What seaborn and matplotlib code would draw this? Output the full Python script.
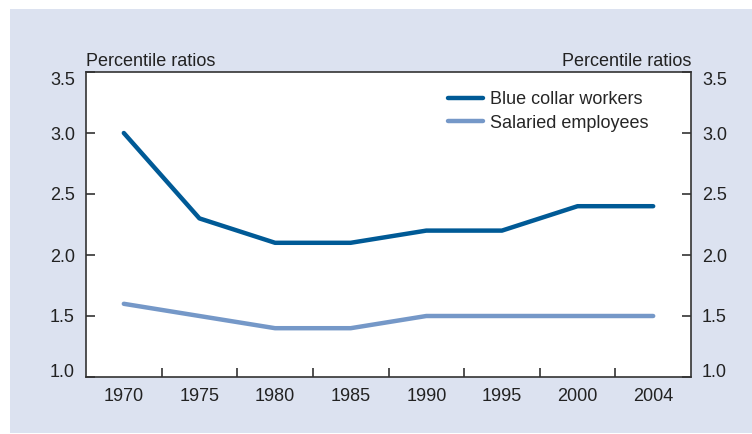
import numpy as np
import pandas as pd
import matplotlib
matplotlib.use("Agg")
import matplotlib.pyplot as plt
from matplotlib.patches import Rectangle
from matplotlib.ticker import FixedLocator
import seaborn as sns

# chart values
years = ["1970", "1975", "1980", "1985", "1990", "1995", "2000", "2004"]
blue_collar = [3.0, 2.3, 2.1, 2.1, 2.2, 2.2, 2.4, 2.4]
salaried = [1.6, 1.5, 1.4, 1.4, 1.5, 1.5, 1.5, 1.5]
series_names = ["Blue collar workers", "Salaried employees"]
y_ticks = [1.0, 1.5, 2.0, 2.5, 3.0, 3.5]

df = pd.DataFrame({
    "year": years * 2,
    "ratio": blue_collar + salaried,
    "series": [series_names[0]] * len(years) + [series_names[1]] * len(years),
})

sns.set_style("white")
plt.rcParams["font.family"] = ["Liberation Sans", "DejaVu Sans"]
plt.rcParams["font.size"] = 13

fig = plt.figure(figsize=(7.52, 4.34), dpi=100)
fig.patch.set_facecolor("white")
# light blue panel behind the chart
fig.patches.append(Rectangle((10 / 752, 1 / 434), 1 - 10 / 752, 424 / 434,
                             transform=fig.transFigure, facecolor="#dce2f0",
                             edgecolor="none", zorder=-10))

ax = fig.add_axes([86 / 752, 1 - 377 / 434, 605 / 752, 305 / 434])
ax.set_facecolor("white")

palette = {series_names[0]: "#005a96", series_names[1]: "#7598c8"}
sns.lineplot(data=df, x="year", y="ratio", hue="series", palette=palette,
             linewidth=3.2, ax=ax, sort=False)

ax.set_xlim(-0.5, len(years) - 0.5)
ax.set_ylim(1.0, 3.5)
ax.set_yticks(y_ticks)
ax.set_yticklabels([f"{v:.1f}" for v in y_ticks])
ax.set_xlabel("")
ax.set_ylabel("")

# labels centred on categories, tick marks at the boundaries
ax.tick_params(axis="x", which="major", bottom=True, length=0, pad=8,
               labelsize=13, colors="#222222")
ax.xaxis.set_minor_locator(FixedLocator(np.arange(0.5, len(years) - 1, 1.0)))
ax.tick_params(axis="x", which="minor", bottom=True, direction="in", length=6.5,
               width=1.2, color="#333333")
ax.tick_params(axis="y", which="major", left=True, right=True, labelleft=True,
               labelright=True, direction="in", length=6.5, width=1.2,
               color="#333333", labelsize=13, labelcolor="#222222", pad=8)

for sp in ax.spines.values():
    sp.set_visible(True)
    sp.set_color("#333333")
    sp.set_linewidth(1.2)

leg = ax.legend(loc="upper left", frameon=False, handlelength=1.95,
                handletextpad=0.35, fontsize=13, borderpad=0, borderaxespad=0,
                labelspacing=0.38, bbox_to_anchor=((448 - 86) / 605, 0.938))
for line in leg.get_lines():
    line.set_linewidth(3.2)

ax.text(0.0, 1.008, "Percentile ratios", transform=ax.transAxes, ha="left",
        va="bottom", fontsize=13, color="#222222")
ax.text(1.0, 1.008, "Percentile ratios", transform=ax.transAxes, ha="right",
        va="bottom", fontsize=13, color="#222222")

# end labels sit inside the frame, as in the reference
yticks = ax.yaxis.get_major_ticks()
for lab in (yticks[0].label1, yticks[0].label2):
    lab.set_verticalalignment("baseline")
for lab in (yticks[-1].label1, yticks[-1].label2):
    lab.set_verticalalignment("top")

fig.savefig("out.png", dpi=100)
